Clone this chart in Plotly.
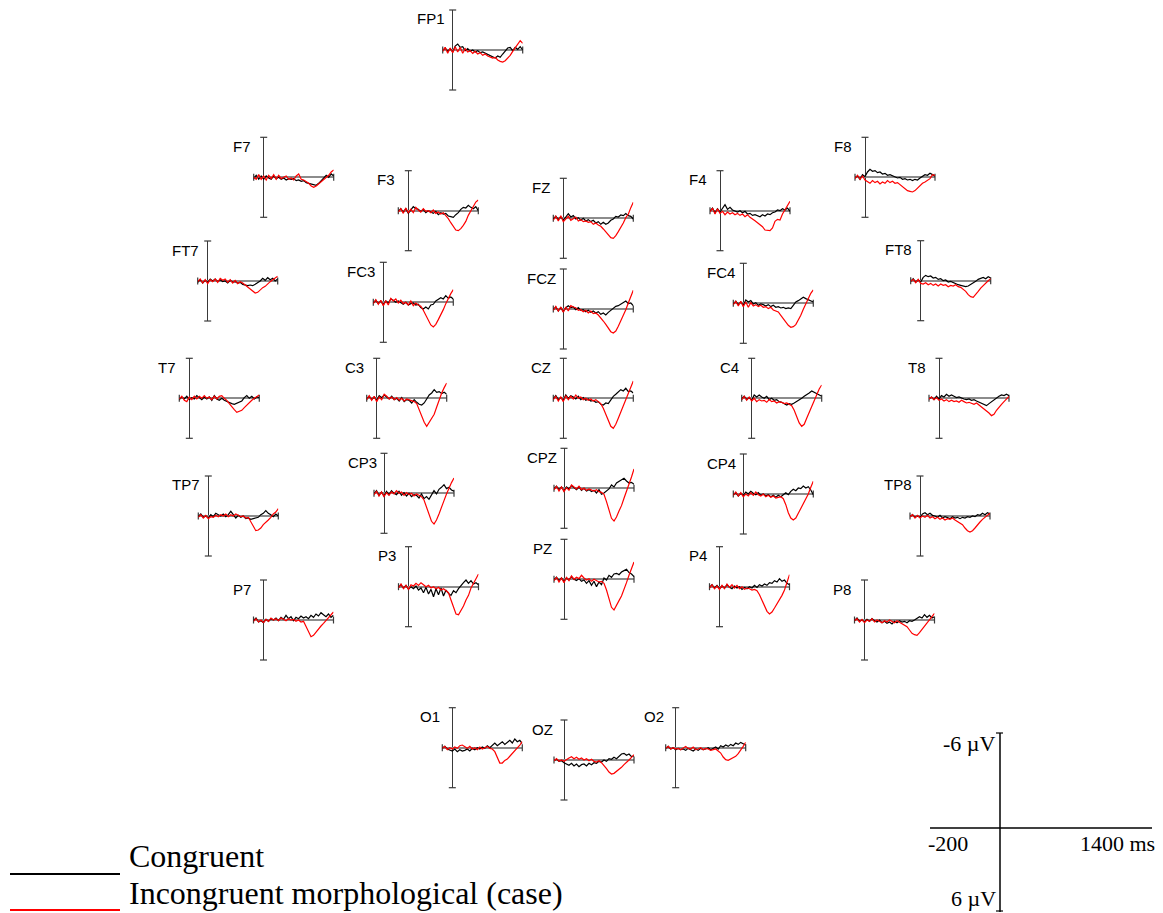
import plotly.graph_objects as go

W, H = 1163, 913

# sample times (ms)
times_ms = list(range(-200, 1401, 50))

# ---------------- data (µV; negative plotted up) ----------------
fp1_congruent = [0.1,-0.3,0.2,-0.2,0.3,-0.6,-0.9,-0.4,-0.5,0.1,-0.2, 0.2,0.0,0.3,0.1,0.4,0.3,0.5,0.6,0.8,1.0,1.2, 0.9,1.1,0.6,0.2,-0.3,-0.4,0.1,-0.4,-0.1,-0.5,0.0]
fp1_incongruent = [0.2,-0.4,0.5,-0.3,0.4,-0.5,0.3,-0.4,0.5,-0.2,0.3, 0.1,0.5,0.2,0.6,0.4,0.8,0.6,0.9,1.0,1.2,1.1, 1.5,1.7,1.8,1.6,1.2,0.8,0.2,-0.3,-0.8,-1.4,-1.0]

f7_congruent = [0.2,-0.3,0.3,-0.2,0.3,-0.2,0.1,0.3,-0.2,0.2,0.0, 0.3,0.1,0.4,0.2,0.3,0.2,0.5,0.4,0.6,0.5,0.8, 0.9,1.0,1.1,1.2,0.9,0.5,0.0,-0.3,0.0,-0.5,-0.2]
f7_incongruent = [0.0,0.3,-0.4,0.3,-0.2,0.4,-0.3,0.2,-0.4,0.3,-0.3, 0.2,0.0,-0.2,0.3,0.1,0.4,-0.2,-0.5,0.3,0.4,0.6, 0.9,1.3,1.5,1.3,1.0,0.7,0.3,0.0,-0.3,-0.8,-1.1]

f3_congruent = [0.1,-0.3,0.2,-0.3,0.4,-0.1,-0.6,-0.3,-0.2,0.1,-0.2, 0.3,0.0,0.2,0.4,0.1,0.6,0.3,0.5,0.4,0.8,0.9, 1.0,0.6,0.3,-0.2,-0.5,-0.4,-0.8,-0.5,-0.3,-0.6,0.0]
f3_incongruent = [0.2,-0.3,0.4,-0.4,0.3,-0.2,0.3,-0.5,-0.1,0.2,-0.3, 0.1,0.0,0.3,-0.1,0.4,0.2,0.5,0.3,0.7,1.2,1.8, 2.4,2.9,3.0,2.7,2.2,1.6,0.7,0.0,-0.6,-1.3,-1.6]

fz_congruent = [0.1,-0.3,0.2,-0.2,0.3,-0.3,-0.7,-0.2,-0.4,0.1,-0.1, 0.3,0.0,0.4,0.2,0.5,0.3,0.7,0.5,0.9,0.6,0.9, 0.7,0.3,0.1,-0.3,-0.2,-0.5,-0.4,-0.7,-0.4,-0.3,0.1]
fz_incongruent = [0.3,-0.3,0.4,-0.4,0.5,0.1,-0.3,0.3,0.0,-0.2,0.4, 0.2,0.5,0.4,0.6,0.5,0.9,0.7,1.0,1.2,1.6,2.0, 2.5,2.9,3.0,2.6,2.0,1.4,0.7,-0.1,-0.6,-1.6,-2.4]

f4_congruent = [0.1,-0.4,0.3,-0.3,0.2,-0.4,-0.9,-0.2,-0.5,-0.1,0.0, 0.2,0.0,0.3,0.1,0.5,0.4,0.7,0.6,0.8,0.9,0.6, 0.8,0.5,0.6,0.3,0.2,-0.1,0.0,-0.3,-0.1,-0.4,0.1]
f4_incongruent = [0.2,-0.4,0.5,-0.3,0.4,0.1,0.6,0.2,0.5,0.3,0.6, 0.4,0.7,0.5,0.9,0.6,1.0,1.2,1.5,1.8,2.1,2.4, 2.9,3.0,3.0,2.6,1.6,1.3,1.4,0.5,-0.2,-0.9,-1.4]

f8_congruent = [0.1,-0.2,0.3,-0.4,-0.1,-0.8,-1.2,-0.9,-1.0,-0.7,-0.8, -0.5,-0.6,-0.3,-0.4,-0.2,-0.1,0.1,0.0,0.3,0.2,0.4, 0.3,0.5,0.3,0.4,0.1,-0.2,-0.4,-0.3,-0.6,-0.4,-0.2]
f8_incongruent = [0.2,-0.3,0.3,-0.2,0.4,0.6,0.9,0.5,0.8,0.6,1.0, 0.7,0.9,0.5,0.8,0.6,0.9,0.8,1.1,1.4,1.8,2.0, 2.1,2.2,2.0,1.6,1.2,0.9,0.7,0.4,0.2,-0.4,-0.3]

ft7_congruent = [0.2,-0.2,0.3,-0.1,0.2,-0.3,0.0,-0.3,0.1,-0.2,0.1, 0.0,0.3,-0.1,0.2,0.1,0.3,0.2,0.5,0.6,0.7,0.6, 0.7,0.5,0.3,0.0,-0.4,-0.1,-0.5,-0.2,-0.4,0.0,-0.3]
ft7_incongruent = [0.1,-0.3,0.3,-0.2,0.4,-0.2,0.1,-0.3,0.2,-0.4,-0.1, -0.3,0.2,-0.2,0.3,-0.1,0.4,0.1,0.3,0.6,0.9,1.2, 1.6,1.8,1.7,1.3,1.0,0.8,0.4,0.1,-0.2,-0.5,-0.7]

fc3_congruent = [0.1,-0.3,0.2,-0.2,0.4,-0.2,0.1,-0.5,-0.3,0.0,-0.2, 0.1,0.3,0.0,0.4,0.2,0.1,0.4,0.3,0.8,1.0,0.7, 1.0,0.4,0.3,-0.2,-0.4,-0.7,-0.5,-1.0,-0.6,-0.8,-0.5]
fc3_incongruent = [0.2,-0.4,0.3,-0.3,0.5,-0.2,0.4,-0.6,-0.2,-0.5,0.1, -0.3,0.2,0.0,0.4,-0.2,0.5,0.1,0.4,0.6,1.2,2.0, 2.8,3.4,3.7,3.3,2.6,1.9,1.1,0.2,-0.6,-1.3,-1.9]

fcz_congruent = [0.1,-0.3,0.3,-0.2,0.4,-0.2,-0.5,-0.2,-0.3,0.1,-0.2, 0.2,0.1,0.4,0.2,0.5,0.3,0.6,0.4,0.8,0.6,0.9, 0.5,0.2,-0.1,-0.4,-0.5,-0.7,-0.9,-1.2,-0.8,-0.9,-0.5]
fcz_incongruent = [0.2,-0.4,0.3,-0.3,0.5,-0.3,0.3,-0.5,-0.3,-0.2,0.2, 0.1,0.4,0.2,0.6,0.3,0.7,0.6,0.9,1.3,1.8,2.3, 2.9,3.4,3.6,3.3,2.6,1.8,1.0,0.1,-0.9,-1.9,-2.8]

fc4_congruent = [0.1,-0.3,0.2,-0.2,0.3,-0.5,-0.2,-0.4,0.1,-0.1,0.3, 0.1,0.2,0.4,0.2,0.5,0.3,0.6,0.5,0.7,0.6,0.8, 0.7,0.8,0.3,-0.2,-0.4,-0.6,-0.9,-0.7,-0.5,-0.3,-0.2]
fc4_incongruent = [0.2,-0.3,0.4,-0.3,0.5,-0.2,0.6,-0.1,0.4,0.2,0.5, 0.3,0.6,0.5,0.8,0.6,1.0,1.1,1.3,1.8,2.3,2.9, 3.3,3.6,3.5,3.2,2.6,1.8,0.9,0.1,-0.8,-1.5,-2.0]

ft8_congruent = [0.1,-0.3,0.2,-0.1,0.2,-0.5,-0.8,-0.6,-0.7,-0.4,-0.5, -0.2,-0.3,0.0,-0.1,0.2,0.1,0.3,0.4,0.6,0.7,0.8, 0.9,0.8,0.6,0.3,0.1,-0.2,-0.4,-0.5,-0.3,-0.6,-0.4]
ft8_incongruent = [0.1,-0.2,0.3,-0.2,0.4,0.5,0.3,0.6,0.4,0.7,0.5, 0.8,0.5,0.7,0.6,0.9,0.7,0.8,0.6,0.9,1.0,1.3, 1.6,2.1,2.4,2.5,2.1,1.6,1.1,0.7,0.4,0.0,-0.3]

t7_congruent = [0.2,-0.2,0.1,-0.3,0.2,-0.1,0.1,-0.4,-0.1,0.2,-0.2, 0.1,-0.2,0.3,-0.4,0.1,0.3,0.0,0.3,0.5,0.6,0.8, 0.9,0.7,0.6,0.4,-0.1,-0.4,0.0,-0.3,0.1,-0.2,-0.1]
t7_incongruent = [0.1,-0.3,0.3,0.5,-0.2,0.2,-0.3,0.1,-0.3,0.0,-0.4, 0.0,-0.2,0.2,-0.3,0.1,-0.3,-0.4,0.0,0.3,0.8,1.3, 1.7,2.1,2.0,1.8,1.4,1.0,0.6,0.3,0.0,-0.3,-0.5]

c3_congruent = [0.1,-0.3,0.2,-0.2,0.3,-0.4,-0.1,-0.5,-0.2,0.1,-0.3, 0.2,0.0,0.4,-0.1,0.5,0.2,0.3,0.7,0.2,0.6,0.9, 1.0,0.7,0.1,-0.5,-0.8,-1.3,-0.9,-1.0,-0.7,-0.9,-0.6]
c3_incongruent = [0.2,-0.4,0.3,-0.3,0.5,-0.2,0.2,-0.6,-0.3,0.1,-0.2, 0.2,-0.1,0.3,0.0,0.4,0.1,0.2,0.4,0.5,0.8,1.8, 2.7,3.6,4.2,3.6,2.8,2.4,1.3,0.2,-0.8,-1.6,-2.3]

cz_congruent = [0.1,-0.4,0.2,-0.1,0.3,-0.5,0.0,-0.4,-0.2,0.1,-0.3, 0.2,-0.1,0.3,0.1,0.4,0.3,0.6,0.5,0.9,1.0,0.7, 0.8,0.2,-0.3,-0.6,-0.9,-1.3,-1.1,-1.5,-1.0,-1.1,-0.8]
cz_incongruent = [0.2,-0.3,0.4,-0.2,0.5,-0.4,0.2,-0.3,0.1,-0.5,0.0, -0.2,0.2,0.0,0.3,0.1,0.4,0.2,0.5,0.8,1.5,2.5, 3.5,4.2,4.5,3.9,3.0,2.1,1.1,0.2,-0.7,-1.7,-2.6]

c4_congruent = [0.1,-0.3,0.2,-0.1,0.3,-0.5,-0.2,-0.5,-0.2,0.0,-0.3, 0.2,0.0,0.3,0.2,0.5,0.6,0.8,1.0,0.8,0.9,0.7, 0.5,0.2,0.0,-0.3,-0.5,-0.8,-1.1,-0.9,-0.6,-0.4,-0.3]
c4_incongruent = [0.2,-0.3,0.3,-0.2,0.4,0.0,0.5,0.2,0.4,0.3,0.6, 0.2,0.5,0.4,0.7,0.5,0.6,0.8,0.7,0.9,1.1,1.8, 2.8,3.7,4.2,3.9,3.0,2.1,1.2,0.2,-0.6,-1.4,-2.0]

t8_congruent = [0.1,-0.2,0.2,-0.3,0.1,-0.4,-0.2,-0.6,-0.3,-0.5,-0.3, -0.1,-0.2,0.0,0.1,0.2,0.1,0.3,0.2,0.4,0.6,0.8, 1.0,1.1,0.8,0.5,0.2,-0.1,-0.3,-0.5,-0.4,-0.6,-0.4]
t8_incongruent = [0.1,-0.2,0.2,-0.1,0.3,0.1,0.4,0.2,0.5,0.3,0.5, 0.4,0.6,0.3,0.5,0.7,0.6,0.8,0.9,0.7,1.0,1.2, 1.5,1.9,2.2,2.6,2.4,1.8,1.3,0.9,0.5,0.1,-0.3]

tp7_congruent = [0.1,-0.3,0.2,0.0,0.3,-0.2,0.1,-0.4,-0.2,0.0,-0.3, 0.1,-0.2,-0.7,-0.2,0.3,-0.1,0.2,0.0,0.4,0.3,0.5, 0.4,0.3,0.2,-0.2,-0.4,-0.8,-0.4,-0.2,0.1,-0.3,0.0]
tp7_incongruent = [0.2,-0.2,0.3,-0.1,0.4,0.1,0.2,-0.1,0.1,-0.2,0.0, -0.3,0.1,-0.2,0.0,-0.3,-0.1,0.1,0.0,0.3,0.2,0.8, 1.6,2.2,2.1,1.8,1.3,1.0,0.6,0.2,-0.3,-0.6,-1.1]

cp3_congruent = [0.1,-0.4,0.3,-0.2,0.4,-0.3,0.2,-0.4,0.0,0.2,-0.3, 0.3,-0.1,0.4,0.0,0.5,0.2,0.3,0.7,0.1,0.8,0.5, 0.9,0.3,-0.4,0.1,-0.6,-0.9,-1.3,-0.7,-0.9,-0.5,-0.3]
cp3_incongruent = [0.2,-0.3,0.4,-0.2,0.5,-0.1,0.3,-0.2,0.1,-0.4,0.0, -0.2,0.3,-0.1,0.2,0.0,0.4,0.1,0.3,0.5,1.0,2.0, 3.2,4.2,4.6,4.0,3.1,2.2,1.1,0.1,-0.8,-1.6,-2.3]

cpz_congruent = [0.1,-0.3,0.2,-0.2,0.4,-0.2,0.1,-0.4,-0.1,0.2,-0.2, 0.3,0.0,0.4,0.2,0.5,0.3,0.7,0.2,0.9,0.7,0.4, 0.1,-0.5,-0.2,-0.8,-1.0,-1.3,-1.5,-1.1,-0.8,-0.9,-0.6]
cpz_incongruent = [0.2,-0.3,0.4,-0.2,0.5,-0.1,0.3,-0.5,-0.2,0.1,-0.3, 0.2,0.0,0.3,0.1,0.2,0.4,0.2,0.5,0.6,0.9,2.0, 3.4,4.5,4.9,4.3,3.4,2.6,1.5,0.5,-0.5,-1.7,-2.9]

cp4_congruent = [0.1,-0.2,0.3,-0.1,0.2,-0.3,0.0,-0.4,-0.1,0.1,-0.2, 0.2,0.0,0.3,0.1,0.4,0.2,0.5,0.2,0.4,0.1,-0.2, 0.1,-0.4,-0.7,-0.5,-0.9,-0.8,-1.2,-0.9,-1.1,-0.6,0.1]
cp4_incongruent = [0.2,-0.3,0.3,-0.2,0.4,0.0,0.3,-0.2,0.2,-0.3,0.1, 0.3,0.0,0.4,0.2,0.5,0.3,0.6,0.5,0.4,0.7,1.6, 2.8,3.6,3.9,3.6,2.9,2.2,1.5,0.7,0.0,-1.0,-1.9]

tp8_congruent = [0.1,-0.2,0.2,0.0,0.2,-0.3,-0.5,-0.2,-0.4,-0.1,0.0, 0.2,-0.1,0.3,0.1,0.2,0.4,0.1,0.3,0.2,0.4,0.2, 0.3,0.1,0.2,0.0,0.1,-0.2,-0.1,-0.4,-0.2,-0.5,-0.3]
tp8_incongruent = [0.1,-0.2,0.3,-0.1,0.3,0.0,0.2,-0.1,0.3,0.1,0.4, 0.2,0.5,0.3,0.6,0.4,0.5,0.3,0.6,0.8,1.0,1.3, 1.8,2.2,2.4,2.2,1.8,1.3,0.9,0.5,0.2,-0.1,-0.4]

p7_congruent = [0.1,-0.3,0.3,0.1,0.4,-0.1,0.2,-0.2,0.0,-0.3,0.1, -0.4,-0.1,-0.7,-0.2,-0.5,0.1,-0.4,-0.2,-0.6,-0.3,-0.5, -0.2,-0.7,-0.4,-0.9,-0.6,-1.1,-0.8,-0.5,-0.9,-0.4,-0.7]
p7_incongruent = [0.2,-0.2,0.3,0.0,0.4,-0.1,0.2,-0.3,0.0,-0.2,0.1, -0.3,-0.1,0.1,-0.2,0.0,-0.1,0.2,0.0,0.3,0.2,0.9, 1.8,2.5,2.3,1.8,1.3,0.9,0.5,0.1,-0.3,-0.8,-1.2]

p3_congruent = [0.1,-0.3,0.2,-0.2,0.4,0.0,0.3,-0.1,0.5,0.2,0.9, 0.1,1.1,0.4,1.5,0.3,1.2,0.2,1.4,0.5,1.0,1.3, 0.6,0.9,0.3,-0.2,-0.6,-1.0,-0.5,-0.9,-0.4,-0.6,-0.3]
p3_incongruent = [0.2,-0.4,0.3,-0.2,0.4,-0.3,-0.1,-0.5,-0.2,-0.6,-0.3, 0.0,-0.2,0.2,0.0,0.3,0.1,0.5,0.3,0.6,0.9,2.0, 3.2,4.1,4.2,3.6,2.9,2.0,1.3,0.2,-0.6,-1.2,-1.9]

pz_congruent = [0.1,-0.3,0.2,-0.2,0.3,-0.2,0.1,-0.4,0.0,0.2,-0.1, 0.3,0.1,0.6,0.2,0.9,0.3,1.1,0.4,0.8,-0.2,0.1, -0.6,-0.3,-0.8,-0.9,-0.7,-1.1,-1.3,-1.5,-1.0,-0.8,-0.4]
pz_incongruent = [0.2,-0.3,0.4,-0.2,0.5,-0.3,0.2,-0.5,0.0,-0.3,-0.1, -0.6,-0.2,0.1,-0.1,0.3,0.0,0.2,0.4,0.3,0.6,1.6, 3.0,4.2,4.6,4.0,3.2,2.5,1.6,0.5,-0.6,-1.6,-2.6]

p4_congruent = [0.1,-0.3,0.2,-0.2,0.3,-0.1,0.2,-0.3,0.1,0.3,-0.1, 0.2,0.0,0.4,0.1,0.3,0.0,0.2,-0.2,0.1,-0.3,-0.1, -0.4,-0.2,-0.6,-0.5,-0.9,-0.7,-1.2,-0.8,-1.0,-0.5,-0.3]
p4_incongruent = [0.2,-0.3,0.3,-0.1,0.4,-0.2,0.3,-0.4,0.1,-0.3,0.2, -0.2,0.3,0.0,0.4,0.2,0.3,0.5,0.4,0.6,1.2,2.1, 3.0,3.7,4.1,3.8,3.2,2.6,2.0,1.3,0.5,-0.6,-1.8]

p8_congruent = [0.1,-0.3,0.2,0.0,0.3,-0.1,0.2,-0.2,0.1,0.3,0.0, 0.4,0.2,0.5,0.3,0.6,0.2,0.4,0.1,0.3,0.2,0.4, 0.1,0.2,0.0,-0.2,-0.5,-0.3,-0.8,-0.4,-0.7,-0.3,-0.5]
p8_incongruent = [0.1,-0.2,0.3,-0.1,0.4,0.0,0.2,-0.2,0.3,0.0,0.2, 0.4,0.1,0.3,0.0,0.2,0.4,0.1,0.3,0.5,0.7,1.0, 1.5,2.0,2.2,2.3,1.9,1.4,1.0,0.5,0.0,-0.5,-1.0]

o1_congruent = [0.1,-0.2,0.2,0.3,0.5,0.2,0.6,0.3,0.5,0.4,0.2, 0.5,0.1,0.3,0.0,0.2,-0.1,0.1,-0.3,0.0,-0.4,-0.7, -0.3,-0.6,-0.9,-0.5,-0.8,-1.1,-0.7,-1.3,-0.9,-1.1,-0.6]
o1_incongruent = [0.1,-0.2,0.3,0.0,0.2,-0.1,0.1,-0.3,-0.4,-0.1,0.1, -0.2,0.2,0.0,0.3,-0.1,0.2,0.0,-0.2,0.1,0.2,0.6, 1.5,2.3,2.3,1.9,1.7,1.3,0.9,0.5,0.1,-0.4,-0.9]

oz_congruent = [0.1,-0.1,0.2,0.1,0.4,0.6,0.8,0.5,0.9,0.6,1.0, 0.7,0.6,0.9,0.5,0.7,0.4,0.5,0.2,0.3,0.0,0.2, -0.2,-0.1,-0.4,-0.2,-0.6,-0.9,-1.0,-0.7,-0.9,-0.5,-0.6]
oz_incongruent = [0.1,-0.2,0.2,0.0,0.2,-0.1,-0.3,-0.5,-0.2,-0.4,-0.1, -0.3,0.0,-0.2,0.1,-0.1,0.2,0.3,0.1,0.4,0.8,1.3, 1.8,2.1,2.0,1.7,1.5,1.1,0.7,0.4,0.0,-0.4,-0.8]

o2_congruent = [0.1,-0.2,0.2,0.0,0.3,0.1,0.3,0.2,0.4,0.1,0.3, 0.5,0.2,0.4,0.1,0.3,0.2,0.0,0.3,0.1,-0.1,0.2, -0.3,-0.1,-0.4,-0.2,-0.5,-0.3,-0.7,-0.5,-0.8,-0.6,-0.4]
o2_incongruent = [0.1,-0.2,0.2,0.0,0.2,0.1,0.3,0.0,-0.2,0.1,0.2, -0.1,0.3,0.2,0.0,0.3,0.1,0.2,0.4,0.3,0.2,0.5, 0.8,1.4,1.8,1.9,1.7,1.6,1.3,0.9,0.4,-0.2,-0.8]

electrodes = ["FP1", "F7", "F3", "FZ", "F4", "F8",
              "FT7", "FC3", "FCZ", "FC4", "FT8",
              "T7", "C3", "CZ", "C4", "T8",
              "TP7", "CP3", "CPZ", "CP4", "TP8",
              "P7", "P3", "PZ", "P4", "P8",
              "O1", "OZ", "O2"]

congruent = {
    "FP1": fp1_congruent, "F7": f7_congruent, "F3": f3_congruent, "FZ": fz_congruent,
    "F4": f4_congruent, "F8": f8_congruent, "FT7": ft7_congruent, "FC3": fc3_congruent,
    "FCZ": fcz_congruent, "FC4": fc4_congruent, "FT8": ft8_congruent, "T7": t7_congruent,
    "C3": c3_congruent, "CZ": cz_congruent, "C4": c4_congruent, "T8": t8_congruent,
    "TP7": tp7_congruent, "CP3": cp3_congruent, "CPZ": cpz_congruent, "CP4": cp4_congruent,
    "TP8": tp8_congruent, "P7": p7_congruent, "P3": p3_congruent, "PZ": pz_congruent,
    "P4": p4_congruent, "P8": p8_congruent, "O1": o1_congruent, "OZ": oz_congruent,
    "O2": o2_congruent,
}
incongruent = {
    "FP1": fp1_incongruent, "F7": f7_incongruent, "F3": f3_incongruent, "FZ": fz_incongruent,
    "F4": f4_incongruent, "F8": f8_incongruent, "FT7": ft7_incongruent, "FC3": fc3_incongruent,
    "FCZ": fcz_incongruent, "FC4": fc4_incongruent, "FT8": ft8_incongruent, "T7": t7_incongruent,
    "C3": c3_incongruent, "CZ": cz_incongruent, "C4": c4_incongruent, "T8": t8_incongruent,
    "TP7": tp7_incongruent, "CP3": cp3_incongruent, "CPZ": cpz_incongruent, "CP4": cp4_incongruent,
    "TP8": tp8_incongruent, "P7": p7_incongruent, "P3": p3_incongruent, "PZ": pz_incongruent,
    "P4": p4_incongruent, "P8": p8_incongruent, "O1": o1_incongruent, "OZ": oz_incongruent,
    "O2": o2_incongruent,
}

# ---------------- layout (pixel position of each small plot's origin) ----------------
origin_px = {
    "FP1": (452.7, 50.0),
    "F7": (263.7, 177.3), "F3": (408.3, 210.7), "FZ": (563.3, 218.3), "F4": (720.0, 210.7), "F8": (865.0, 177.3),
    "FT7": (207.7, 281.0), "FC3": (383.3, 302.3), "FCZ": (563.3, 309.0), "FC4": (743.3, 303.3), "FT8": (920.7, 280.7),
    "T7": (189.3, 398.3), "C3": (376.7, 398.3), "CZ": (563.3, 398.3), "C4": (751.7, 398.3), "T8": (939.0, 398.3),
    "TP7": (208.3, 516.0), "CP3": (384.0, 493.3), "CPZ": (564.0, 488.3), "CP4": (743.3, 494.0), "TP8": (920.0, 516.0),
    "P7": (263.5, 620.0), "P3": (408.5, 586.7), "PZ": (564.0, 579.3), "P4": (719.5, 586.7), "P8": (864.5, 620.0),
    "O1": (452.3, 747.7), "OZ": (564.0, 760.0), "O2": (675.7, 747.7),
}
T_MIN, T_MAX = -200, 1400
V_MIN, V_MAX = -6, 6
PLOT_W = 80      # px for -200..1400 ms
PLOT_H = 80      # px for -6..6 µV
ZERO_OFF = 10    # px from left edge to t = 0

AXIS_COL = "#3a3a3a"
BASE_COL = "#8c8c8c"
SANS = "Liberation Sans, Arial, Helvetica, sans-serif"
SERIF = "Liberation Serif, Times New Roman, serif"


def px_x(x):
    return x / W


def px_y(y):
    return 1 - y / H


fig = go.Figure()
layout_axes = {}
annotations = []

for i, name in enumerate(electrodes):
    n = i + 1
    xa = "x" if n == 1 else f"x{n}"
    ya = "y" if n == 1 else f"y{n}"
    xv, yb = origin_px[name]
    x0 = px_x(xv - ZERO_OFF)
    x1 = px_x(xv - ZERO_OFF + PLOT_W)
    y0 = px_y(yb + PLOT_H / 2)
    y1 = px_y(yb - PLOT_H / 2)

    layout_axes["xaxis" if n == 1 else f"xaxis{n}"] = dict(
        domain=[x0, x1], range=[T_MIN, T_MAX], anchor=ya,
        showgrid=False, showticklabels=False, ticks="", showline=False,
        zeroline=True, zerolinecolor=AXIS_COL, zerolinewidth=1.4, fixedrange=True,
    )
    layout_axes["yaxis" if n == 1 else f"yaxis{n}"] = dict(
        domain=[y0, y1], range=[V_MAX, V_MIN], anchor=xa,
        showgrid=False, showticklabels=False, ticks="", showline=False,
        zeroline=True, zerolinecolor=BASE_COL, zerolinewidth=1.6, fixedrange=True,
    )

    # end caps of the two axis lines
    fig.add_trace(go.Scatter(
        x=[0, 0], y=[V_MIN, V_MAX], xaxis=xa, yaxis=ya, mode="markers",
        marker=dict(symbol="line-ew", size=5, line=dict(color=AXIS_COL, width=1.2)),
        cliponaxis=False, hoverinfo="skip", showlegend=False))
    fig.add_trace(go.Scatter(
        x=[T_MIN, T_MAX], y=[0, 0], xaxis=xa, yaxis=ya, mode="markers",
        marker=dict(symbol="line-ns", size=5, line=dict(color=AXIS_COL, width=1.2)),
        cliponaxis=False, hoverinfo="skip", showlegend=False))

    fig.add_trace(go.Scatter(
        x=times_ms, y=congruent[name], xaxis=xa, yaxis=ya, mode="lines",
        line=dict(color="#000000", width=1.2), name="Congruent",
        showlegend=False, hoverinfo="skip"))
    fig.add_trace(go.Scatter(
        x=times_ms, y=incongruent[name], xaxis=xa, yaxis=ya, mode="lines",
        line=dict(color="#ff0000", width=1.2), name="Incongruent morphological (case)",
        showlegend=False, hoverinfo="skip"))

    annotations.append(dict(
        x=px_x(xv - 22), y=px_y(yb - 31), xref="paper", yref="paper",
        text=name, showarrow=False, xanchor="center", yanchor="middle",
        font=dict(family=SANS, size=15, color="#000000")))

# ---------------- legend (bottom left) ----------------
shapes = [
    dict(type="line", xref="paper", yref="paper", x0=px_x(10), x1=px_x(120),
         y0=px_y(874), y1=px_y(874), line=dict(color="#000000", width=2)),
    dict(type="line", xref="paper", yref="paper", x0=px_x(10), x1=px_x(120),
         y0=px_y(910), y1=px_y(910), line=dict(color="#ff0000", width=2)),
]
annotations.append(dict(x=px_x(127), y=px_y(856), xref="paper", yref="paper",
                        text="Congruent", showarrow=False, xanchor="left", yanchor="middle",
                        font=dict(family=SERIF, size=32, color="#000000")))
annotations.append(dict(x=px_x(127), y=px_y(893), xref="paper", yref="paper",
                        text="Incongruent morphological (case)", showarrow=False,
                        xanchor="left", yanchor="middle",
                        font=dict(family=SERIF, size=32, color="#000000")))

# ---------------- scale bar (bottom right) ----------------
shapes += [
    dict(type="line", xref="paper", yref="paper", x0=px_x(1000), x1=px_x(1000),
         y0=px_y(733), y1=px_y(912), line=dict(color="#000000", width=1.5)),
    dict(type="line", xref="paper", yref="paper", x0=px_x(930), x1=px_x(1152),
         y0=px_y(828), y1=px_y(828), line=dict(color="#000000", width=1.5)),
    dict(type="line", xref="paper", yref="paper", x0=px_x(996), x1=px_x(1003),
         y0=px_y(733), y1=px_y(733), line=dict(color="#000000", width=1.2)),
    dict(type="line", xref="paper", yref="paper", x0=px_x(996), x1=px_x(1003),
         y0=px_y(911), y1=px_y(911), line=dict(color="#000000", width=1.2)),
]
for txt, x, y, anc in [("-6 µV", 998, 743, "right"), ("6 µV", 998, 898, "right"),
                       ("-200", 926, 843, "left"), ("1400 ms", 1157, 843, "right")]:
    annotations.append(dict(x=px_x(x), y=px_y(y), xref="paper", yref="paper", text=txt,
                            showarrow=False, xanchor=anc, yanchor="middle",
                            font=dict(family=SERIF, size=22, color="#000000")))

fig.update_layout(
    width=W, height=H, autosize=False,
    margin=dict(l=0, r=0, t=0, b=0, pad=0),
    paper_bgcolor="#ffffff", plot_bgcolor="#ffffff",
    showlegend=False, annotations=annotations, shapes=shapes,
    **layout_axes,
)

fig.write_html("out.html", include_plotlyjs=True, config={"displayModeBar": False})
